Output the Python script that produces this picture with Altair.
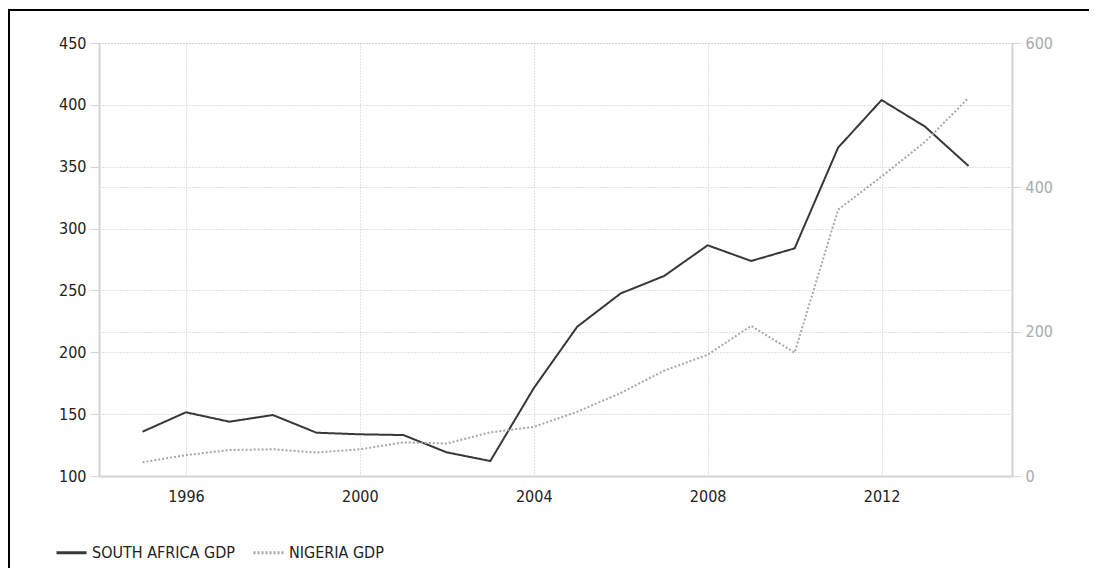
import altair as alt
import pandas as pd

years = list(range(1995, 2015))
south_africa = [135.8, 151.5, 143.9, 149.3, 135.0, 133.7, 133.1, 119.1, 112.1, 171.0,
                220.7, 247.6, 261.7, 286.5, 273.8, 284.0, 365.4, 403.9, 382.4, 350.6]
nigeria = [19, 29, 36, 37, 32.5, 37, 46.6, 45, 60.5, 68,
           89, 115, 146, 168, 208, 171, 369, 415, 463, 524]
series_names = ["SOUTH AFRICA GDP", "NIGERIA GDP"]
x_ticks = [1996, 2000, 2004, 2008, 2012]
left_ticks = [100, 150, 200, 250, 300, 350, 400, 450]
right_ticks = [0, 200, 400, 600]

sa_df = pd.DataFrame({"year": years, "value": south_africa, "series": series_names[0]})
ng_df = pd.DataFrame({"year": years, "value": nigeria, "series": series_names[1]})

FONT = "Liberation Sans Narrow, Arial Narrow, DejaVu Sans Condensed, sans-serif"
GRID = "#c4c4c4"
AXISLINE = "#d4d4d4"

color_scale = alt.Scale(domain=series_names, range=["#383838", "#a8a8a8"])
dash_scale = alt.Scale(domain=series_names, range=[[1, 0], [2, 2]])

x_enc = alt.X("year:Q", scale=alt.Scale(domain=[1994, 2015], nice=False, zero=False),
              axis=alt.Axis(values=x_ticks, format="d", title=None, orient="bottom",
                            ticks=False, labelPadding=12, domainColor=AXISLINE,
                            domainWidth=2, grid=True, gridColor=GRID,
                            gridDash=[1, 2], labelColor="#222222"))

legend = alt.Legend(title=None, orient="none", legendX=-44, legendY=493,
                    direction="horizontal", symbolType="stroke", symbolStrokeWidth=3,
                    symbolSize=900, labelFontSize=16, labelFont=FONT,
                    labelColor="#222222", columnPadding=12, labelOffset=4)

sa = alt.Chart(sa_df).mark_line(strokeWidth=2).encode(
    x=x_enc,
    y=alt.Y("value:Q", scale=alt.Scale(domain=[100, 450], nice=False, zero=False),
            axis=alt.Axis(orient="left", values=left_ticks, title=None, tickSize=9,
                          tickColor=AXISLINE, domainColor=AXISLINE, domainWidth=2,
                          labelPadding=4, labelColor="#222222", grid=True,
                          gridColor=GRID, gridDash=[1, 2])),
    color=alt.Color("series:N", scale=color_scale, legend=legend),
    strokeDash=alt.StrokeDash("series:N", scale=dash_scale, legend=legend),
)

ng = alt.Chart(ng_df).mark_line(strokeWidth=2).encode(
    x=x_enc,
    y=alt.Y("value:Q", scale=alt.Scale(domain=[0, 600], nice=False),
            axis=alt.Axis(orient="right", values=right_ticks, title=None, tickSize=9,
                          tickColor=AXISLINE, domainColor=AXISLINE, domainWidth=2,
                          labelPadding=4, labelColor="#aaaaaa", grid=True,
                          gridColor=GRID, gridDash=[1, 2])),
    color=alt.Color("series:N", scale=color_scale, legend=legend),
    strokeDash=alt.StrokeDash("series:N", scale=dash_scale, legend=legend),
)

one = pd.DataFrame({"a": [0]})
frame_top = alt.Chart(one).mark_rule(stroke="#000000", strokeWidth=2).encode(
    x=alt.value(-91), x2=alt.value(1100), y=alt.value(-33))
frame_left = alt.Chart(one).mark_rule(stroke="#000000", strokeWidth=2).encode(
    x=alt.value(-90), y=alt.value(-34), y2=alt.value(700))

chart = alt.layer(frame_top, frame_left, sa, ng).resolve_scale(y="independent").properties(
    width=913, height=433,
    autosize=alt.AutoSizeParams(type="none"),
    padding={"left": 91, "top": 35, "right": 77, "bottom": 92},
).configure_axis(
    labelFont=FONT, labelFontSize=16
).configure_view(stroke=None)

chart.save("out.html", embed_options={"renderer": "svg", "actions": False})
